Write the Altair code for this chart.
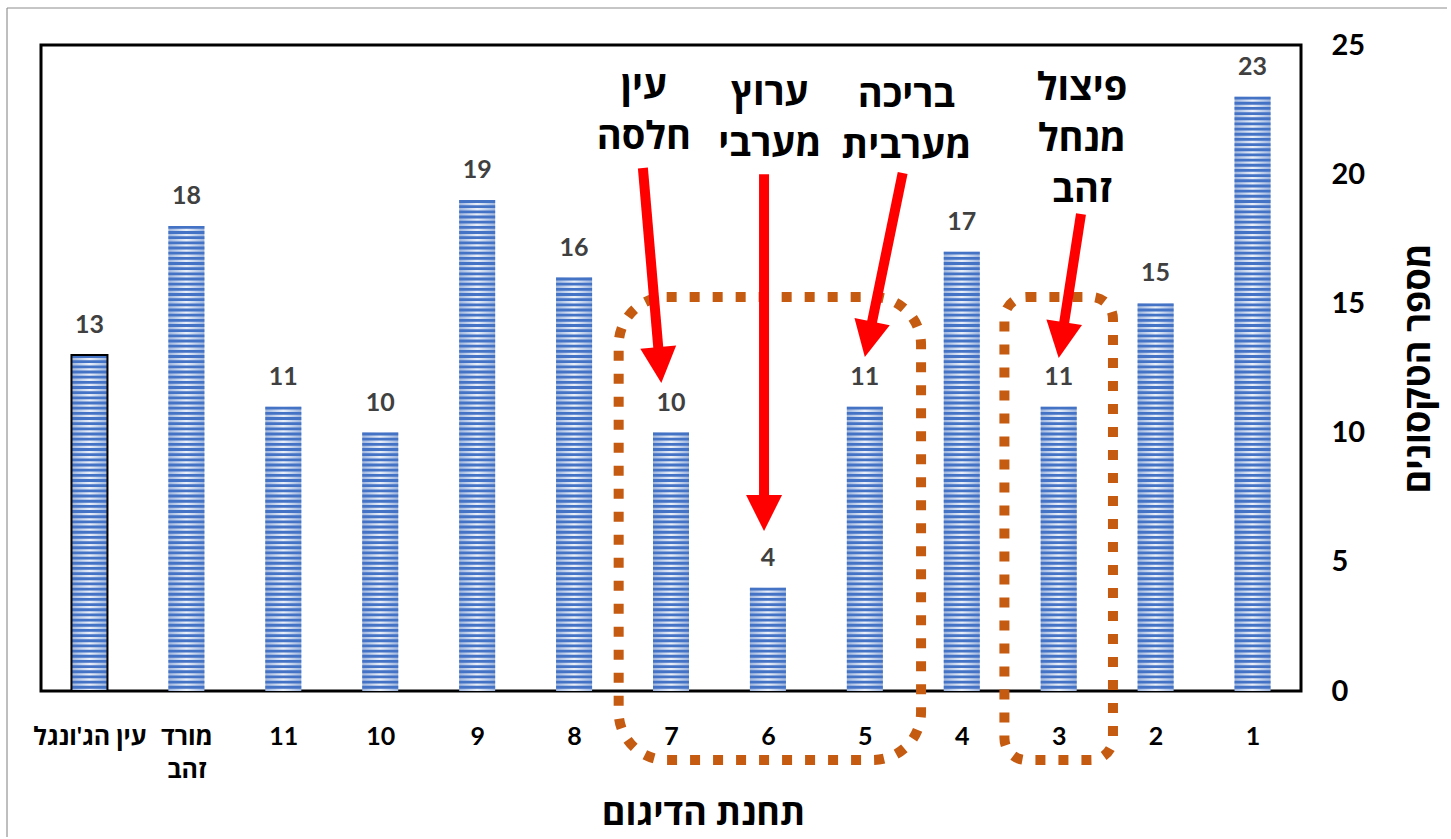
import json
import math

import altair as alt
import pandas as pd

# ---- data -------------------------------------------------------------
stations = ["1", "2", "3", "4", "5", "6", "7", "8", "9", "10", "11",
            "מורד זהב", "עין הג'ונגל"]
x_labels = ["1", "2", "3", "4", "5", "6", "7", "8", "9", "10", "11",
            ["מורד", "זהב"], "עין הג'ונגל"]
taxa = [23, 15, 11, 17, 11, 4, 10, 16, 19, 10, 11, 18, 13]
reference_station = "עין הג'ונגל"
y_ticks = [0, 5, 10, 15, 20, 25]

# callouts: text block position and arrow (station slot, taxa units)
callout_text = [["עין", "חלסה"], ["ערוץ", "מערבי"], ["בריכה", "מערבית"],
                ["פיצול", "מנחל", "זהב"]]
callout_x = [7.28, 5.98, 4.57, 2.76]
callout_y = [24.1, 23.82, 23.75, 24.02]
arrow_from_x = [7.29, 6.04, 4.61, 2.77]
arrow_from_y = [20.24, 20.0, 20.05, 18.46]
arrow_to_x = [7.10, 6.04, 5.0, 3.0]
arrow_to_y = [11.92, 6.19, 12.93, 12.89]

# dotted groupings of stations
group_x1 = [7.54, 3.56]
group_x2 = [4.42, 2.44]
group_top = [15.25, 15.25]
group_bottom = [-2.67, -2.67]
group_radius = [48, 22]

# ---- layout -----------------------------------------------------------
W, H = 1260, 646
N = len(stations)
Y_MAX = 25
PX_X = W / N
PX_Y = H / Y_MAX
FONT = "Lato, 'Open Sans', 'DejaVu Sans', sans-serif"
BLUE = "#4472C4"
RED = "#FF0000"
ORANGE = "#C55A11"
HEAD_LEN = 36

df = pd.DataFrame({
    "station": stations,
    "slot": list(range(1, N + 1)),
    "taxa": taxa,
})

x_scale = alt.Scale(domain=[0.5, N + 0.5], reverse=True, nice=False,
                    zero=False, padding=0)
y_scale = alt.Scale(domain=[0, Y_MAX], nice=False)

label_expr = json.dumps(x_labels, ensure_ascii=False) + "[datum.value - 1]"

x_axis = alt.Axis(
    values=list(range(1, N + 1)), labelExpr=label_expr, title="תחנת הדיגום",
    grid=False, ticks=False, domain=False, labelFlush=False, labelOverlap=False,
    labelFont=FONT, labelFontSize=25, labelFontWeight="bold", labelColor="black",
    labelPadding=33, labelLineHeight=33,
    titleFont=FONT, titleFontSize=36, titleFontWeight="bold", titleColor="black",
    titleX=662, titleY=133, titleBaseline="alphabetic",
)
y_axis = alt.Axis(
    orient="right", values=y_ticks, title="מספר הטקסונים",
    grid=False, ticks=False, domain=False, labelOverlap=False,
    labelFont=FONT, labelFontSize=29, labelFontWeight="bold", labelColor="black",
    labelPadding=30, labelAlign="left",
    titleFont=FONT, titleFontSize=36, titleFontWeight="bold", titleColor="black",
    titleAngle=270, titlePadding=73,
)

base = alt.Chart(df)

# light body of each bar, shaded across its width
body_fill = alt.Gradient(
    gradient="linear", x1=0, x2=1, y1=0, y2=0,
    stops=[alt.GradientStop(color="#9db5df", offset=0),
           alt.GradientStop(color="#eaf0f9", offset=0.5),
           alt.GradientStop(color="#9db5df", offset=1)],
)
bars = base.mark_bar(size=36, fill=body_fill).encode(
    x=alt.X("slot:Q", scale=x_scale, axis=x_axis),
    y=alt.Y("taxa:Q", scale=y_scale, axis=y_axis),
)

# horizontal stripe pattern, five stripes per taxon
stripes = base.transform_calculate(
    k="sequence(0, datum.taxa * 5)"
).transform_flatten(["k"]).transform_calculate(
    s0="datum.k / 5 + 0.09", s1="datum.k / 5 + 0.2"
).mark_bar(size=36, color=BLUE).encode(
    x=alt.X("slot:Q", scale=x_scale),
    y=alt.Y("s0:Q", scale=y_scale),
    y2="s1:Q",
)

outline = base.transform_filter(
    alt.datum.station == reference_station
).mark_bar(size=36, fill="transparent", stroke="black", strokeWidth=2).encode(
    x=alt.X("slot:Q", scale=x_scale),
    y=alt.Y("taxa:Q", scale=y_scale),
)

values = base.mark_text(
    dy=-22, baseline="alphabetic", font=FONT, fontSize=25,
    fontWeight="bold", color="#404040",
).encode(
    x=alt.X("slot:Q", scale=x_scale),
    y=alt.Y("taxa:Q", scale=y_scale),
    text="taxa:Q",
)

# dotted rounded frames around grouped stations
group_layers = []
for gx1, gx2, gt, gb, gr in zip(group_x1, group_x2, group_top, group_bottom,
                                group_radius):
    gdf = pd.DataFrame({"x1": [gx1], "x2": [gx2], "top": [gt], "bottom": [gb]})
    group_layers.append(alt.Chart(gdf).mark_rect(
        cornerRadius=gr, fill="transparent", stroke=ORANGE, strokeWidth=10,
        strokeDash=[10, 13],
    ).encode(
        x=alt.X("x1:Q", scale=x_scale), x2="x2:Q",
        y=alt.Y("top:Q", scale=y_scale), y2="bottom:Q",
    ))

# arrows: shaft ends inside the head; head rotated along the shaft
rows = []
for fx, fy, tx, ty in zip(arrow_from_x, arrow_from_y, arrow_to_x, arrow_to_y):
    dx = -(tx - fx) * PX_X
    dy = -(ty - fy) * PX_Y
    length = math.hypot(dx, dy)
    ux, uy = dx / length, dy / length
    back = HEAD_LEN * 0.75
    rows.append({
        "fx": fx, "fy": fy, "tx": tx, "ty": ty,
        "ex": tx + back * ux / PX_X, "ey": ty + back * uy / PX_Y,
        "angle": math.degrees(math.atan2(-ux, uy)) % 360,
    })
arrows_df = pd.DataFrame(rows)

shafts = alt.Chart(arrows_df).mark_rule(color=RED, strokeWidth=10).encode(
    x=alt.X("fx:Q", scale=x_scale), x2="ex:Q",
    y=alt.Y("fy:Q", scale=y_scale), y2="ey:Q",
)
heads = alt.Chart(arrows_df).mark_point(
    shape="M0,0L-0.5,-1L0.5,-1Z", filled=True, color=RED, opacity=1,
    size=(2 * HEAD_LEN) ** 2, strokeWidth=0,
).encode(
    x=alt.X("tx:Q", scale=x_scale),
    y=alt.Y("ty:Q", scale=y_scale),
    angle=alt.Angle("angle:Q", scale=None),
)

callouts_df = pd.DataFrame({"cx": callout_x, "cy": callout_y,
                            "label": callout_text})
callouts = alt.Chart(callouts_df).mark_text(
    baseline="top", align="center", font=FONT, fontSize=38, fontWeight="bold",
    color="black", lineHeight=51,
).encode(
    x=alt.X("cx:Q", scale=x_scale),
    y=alt.Y("cy:Q", scale=y_scale),
    text="label",
)

# thin outer border of the chart area (left and top edges)
one = pd.DataFrame({"k": [0]})
border_left = alt.Chart(one).mark_rule(color="#7f7f7f", strokeWidth=1).encode(
    x=alt.value(-34), y=alt.value(-37), y2=alt.value(792),
)
border_top = alt.Chart(one).mark_rule(color="#8c8c8c", strokeWidth=1).encode(
    x=alt.value(-34), x2=alt.value(1406), y=alt.value(-37),
)

chart = alt.layer(
    bars, stripes, outline, values, *group_layers, shafts, heads, callouts,
    border_left, border_top,
).properties(
    width=W, height=H,
    padding={"left": 6, "top": 7, "right": 0, "bottom": 0},
    background="white",
).configure_view(stroke="black", strokeWidth=3)

chart.save("out.html", embed_options={"renderer": "svg", "actions": False})
